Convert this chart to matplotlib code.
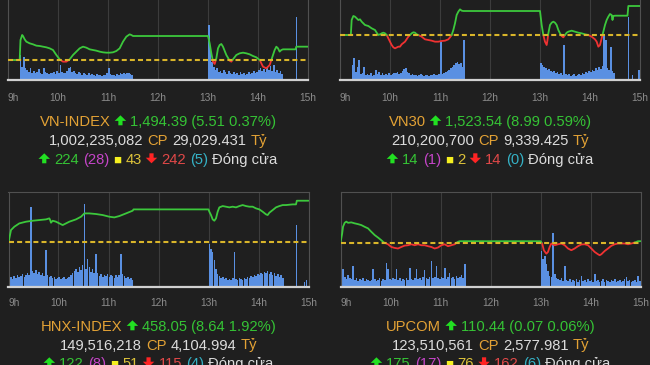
import matplotlib
matplotlib.use("Agg")
import matplotlib.pyplot as plt
from matplotlib.transforms import IdentityTransform
from matplotlib.patches import Polygon
import numpy as np

plt.rcParams['font.family'] = ['Liberation Sans', 'DejaVu Sans']

# ---------------- data ----------------
hour_ticks = [9, 10, 11, 12, 13, 14, 15]
hour_labels = ["9h", "10h", "11h", "12h", "13h", "14h", "15h"]

index_names = ["VN-INDEX", "VN30", "HNX-INDEX", "UPCOM"]
ref_values = [1488.88, 1514.55, 449.41, 110.37]
close_texts = ["1,494.39 (5.51 0.37%)", "1,523.54 (8.99 0.59%)",
               "458.05 (8.64 1.92%)", "110.44 (0.07 0.06%)"]
share_texts = ["1,002,235,082", "210,200,700", "149,516,218", "123,510,561"]
value_texts = ["29,029.431", "9,339.425", "4,104.994", "2,577.981"]
advancers = ["224", "14", "122", "175"]
ceilings = ["(28)", "(1)", "(8)", "(17)"]
unchanged = ["43", "2", "51", "76"]
decliners = ["242", "14", "115", "162"]
floors = ["(5)", "(0)", "(4)", "(6)"]

vni_times = ["9:00", "9:14", "9:15", "9:17", "9:18", "9:20", "9:22", "9:26", "9:30", "9:34",
             "9:38", "9:42", "9:46", "9:50", "9:54", "9:58", "10:02", "10:06", "10:10", "10:14",
             "10:18", "10:22", "10:26", "10:30", "10:34", "10:38", "10:42", "10:46", "10:50", "10:54",
             "10:58", "11:02", "11:06", "11:10", "11:14", "11:18", "11:22", "11:26", "11:28", "11:30",
             "13:00", "13:02", "13:04", "13:06", "13:08", "13:10", "13:12", "13:14", "13:16", "13:18",
             "13:22", "13:26", "13:28", "13:30", "13:34", "13:38", "13:42", "13:46", "13:50", "13:54",
             "13:58", "14:02", "14:06", "14:10", "14:14", "14:16", "14:18", "14:20", "14:22", "14:24",
             "14:26", "14:28", "14:30", "14:45", "14:46", "15:00"]
vni_values = [1488.88, 1488.88, 1497.15, 1499.22, 1498.80, 1497.42, 1496.46, 1495.77, 1495.36, 1494.81,
              1494.67, 1494.39, 1494.12, 1493.70, 1493.01, 1490.95, 1489.16, 1488.19, 1488.19, 1489.16,
              1490.95, 1492.33, 1493.70, 1494.39, 1493.98, 1493.29, 1493.01, 1492.74, 1492.33, 1492.05,
              1491.91, 1491.91, 1492.05, 1492.60, 1493.70, 1496.46, 1498.53, 1499.49, 1499.22, 1498.80,
              1498.80, 1495.77, 1491.64, 1488.19, 1487.23, 1489.57, 1493.70, 1495.08, 1495.49, 1494.39,
              1490.95, 1488.60, 1488.19, 1489.16, 1490.95, 1491.64, 1491.91, 1491.64, 1491.22, 1490.53,
              1489.98, 1488.88, 1486.12, 1485.43, 1486.81, 1488.88, 1490.95, 1493.01, 1494.39, 1493.70,
              1492.33, 1493.01, 1493.29, 1493.29, 1494.39, 1494.39]

vn30_times = ["9:00", "9:13", "9:14", "9:16", "9:18", "9:20", "9:22", "9:24", "9:26", "9:28",
              "9:30", "9:34", "9:38", "9:42", "9:44", "9:46", "9:48", "9:50", "9:52", "9:54",
              "9:56", "9:58", "10:00", "10:02", "10:04", "10:06", "10:10", "10:12", "10:14", "10:18",
              "10:22", "10:26", "10:28", "10:30", "10:32", "10:34", "10:38", "10:42", "10:46", "10:50",
              "10:54", "10:58", "11:02", "11:06", "11:10", "11:12", "11:14", "11:16", "11:18", "11:20",
              "11:22", "11:24", "11:26", "11:28", "11:30", "13:00", "13:02", "13:04", "13:06", "13:08",
              "13:09", "13:10", "13:12", "13:14", "13:16", "13:18", "13:20", "13:22", "13:24", "13:26",
              "13:28", "13:30", "13:32", "13:34", "13:38", "13:42", "13:46", "13:50", "13:54", "13:58",
              "14:02", "14:06", "14:08", "14:10", "14:12", "14:14", "14:16", "14:18", "14:20", "14:22",
              "14:24", "14:26", "14:27", "14:28", "14:30", "14:45", "14:46", "15:00"]
vn30_values = [1514.55, 1514.55, 1519.20, 1520.44, 1520.23, 1519.72, 1519.20, 1519.41, 1518.68, 1518.17,
               1517.65, 1517.34, 1516.62, 1516.10, 1515.27, 1514.55, 1514.76, 1515.07, 1515.27, 1515.07,
               1514.55, 1513.52, 1512.48, 1511.45, 1510.73, 1510.42, 1510.93, 1510.93, 1511.66, 1512.48,
               1514.03, 1515.07, 1515.38, 1515.27, 1514.76, 1514.55, 1514.03, 1513.21, 1513.00, 1512.79,
               1512.48, 1512.48, 1512.69, 1512.79, 1513.21, 1513.83, 1514.55, 1516.10, 1518.17, 1520.75,
               1521.78, 1522.50, 1522.09, 1521.99, 1521.99, 1521.99, 1517.65, 1514.55, 1512.48, 1511.45,
               1513.00, 1515.07, 1517.65, 1518.37, 1518.68, 1518.37, 1517.65, 1516.10, 1515.07, 1514.24,
               1513.83, 1514.55, 1515.27, 1515.58, 1515.89, 1515.58, 1515.27, 1515.07, 1514.76, 1514.55,
               1514.03, 1513.21, 1512.48, 1510.93, 1511.45, 1513.52, 1515.58, 1517.65, 1519.20, 1520.23,
               1521.06, 1520.75, 1519.20, 1520.44, 1520.54, 1520.54, 1523.54, 1523.54]

hnx_times = ["9:00", "9:03", "9:07", "9:13", "9:21", "9:29", "9:37", "9:45", "9:49", "9:50",
             "9:51", "9:53", "9:57", "10:01", "10:05", "10:09", "10:13", "10:21", "10:27", "10:31",
             "10:37", "10:45", "10:53", "11:01", "11:07", "11:13", "11:21", "11:29", "11:30", "13:00",
             "13:01", "13:03", "13:05", "13:07", "13:09", "13:11", "13:13", "13:17", "13:21", "13:25",
             "13:29", "13:33", "13:37", "13:41", "13:45", "13:49", "13:53", "13:57", "14:01", "14:05",
             "14:09", "14:11", "14:13", "14:17", "14:21", "14:25", "14:29", "14:33", "14:41", "14:45",
             "14:46", "15:00"]
hnx_values = [449.41, 451.97, 452.66, 453.35, 453.70, 453.90, 454.04, 454.18, 454.39, 454.04,
              453.49, 453.90, 453.70, 453.35, 453.00, 453.35, 453.70, 454.18, 454.73, 455.42,
              455.42, 455.29, 455.08, 454.73, 454.59, 454.87, 455.42, 455.98, 456.25, 456.25,
              455.77, 455.08, 454.18, 453.90, 454.39, 455.77, 456.67, 456.94, 456.81, 456.67,
              456.81, 456.67, 456.94, 457.15, 456.94, 456.81, 456.81, 456.46, 456.25, 455.77,
              455.22, 455.08, 455.56, 456.11, 456.67, 456.94, 457.15, 457.15, 457.29, 457.29,
              458.05, 458.05]

upcom_times = ["9:00", "9:02", "9:03", "9:05", "9:07", "9:09", "9:13", "9:17", "9:21", "9:25",
               "9:29", "9:33", "9:37", "9:41", "9:45", "9:49", "9:52", "9:55", "9:57", "10:01",
               "10:05", "10:09", "10:13", "10:17", "10:21", "10:25", "10:29", "10:33", "10:37", "10:41",
               "10:45", "10:49", "10:53", "10:57", "11:01", "11:05", "11:09", "11:13", "11:17", "11:21",
               "11:23", "11:30", "13:00", "13:02", "13:04", "13:07", "13:09", "13:11", "13:13", "13:15",
               "13:17", "13:21", "13:25", "13:29", "13:33", "13:37", "13:41", "13:45", "13:49", "13:53",
               "13:57", "14:01", "14:05", "14:09", "14:11", "14:13", "14:17", "14:21", "14:25", "14:29",
               "14:33", "14:41", "14:45", "14:49", "14:53", "14:57", "15:00"]
upcom_values = [110.37, 110.84, 111.19, 111.40, 111.46, 111.40, 111.42, 111.37, 111.33, 111.28,
                111.19, 111.11, 110.93, 110.76, 110.63, 110.49, 110.37, 110.32, 110.28, 110.14,
                110.09, 110.06, 110.14, 110.21, 110.23, 110.28, 110.23, 110.28, 110.23, 110.23,
                110.18, 110.14, 110.06, 110.11, 110.23, 110.28, 110.18, 110.23, 110.28, 110.41,
                110.44, 110.44, 110.44, 110.32, 109.97, 109.79, 109.88, 110.14, 110.32, 110.28,
                110.23, 110.28, 110.32, 110.23, 110.06, 109.97, 110.06, 110.18, 110.27, 110.28,
                110.23, 110.06, 109.88, 109.76, 109.71, 109.76, 109.93, 110.06, 110.20, 110.28,
                110.32, 110.32, 110.28, 110.32, 110.37, 110.44, 110.44]

# volume per 2-minute bar (relative units)
vni_vol_am_start, vni_vol_pm_start = "9:14", "13:00"
vni_vol_am = [25, 13, 23, 12, 10, 8, 12, 7, 9, 7,
              8, 11, 7, 6, 12, 8, 7, 6, 7, 7,
              8, 6, 9, 7, 15, 8, 7, 7, 9, 12,
              13, 8, 9, 7, 6, 8, 7, 5, 7, 6,
              5, 7, 5, 6, 5, 4, 6, 5, 5, 4,
              5, 5, 7, 12, 6, 5, 5, 4, 6, 5,
              7, 6, 7, 6, 7, 7, 6, 5]
vni_vol_pm = [55, 33, 18, 13, 10, 12, 8, 9, 7, 10,
              8, 6, 9, 7, 6, 8, 6, 7, 5, 8,
              6, 7, 5, 6, 8, 6, 7, 9, 7, 8,
              10, 12, 9, 11, 8, 13, 10, 14, 9, 15,
              8, 10, 7, 9, 6]
vni_vol_extra_times = ["14:45"]
vni_vol_extra = [63]

vn30_vol_am_start, vn30_vol_pm_start = "9:14", "13:00"
vn30_vol_am = [15, 22, 8, 13, 20, 6, 7, 13, 5, 6,
               5, 7, 4, 5, 10, 6, 8, 5, 7, 5,
               6, 5, 7, 5, 6, 7, 7, 8, 6, 7,
               9, 11, 12, 8, 7, 5, 6, 5, 5, 4,
               5, 6, 5, 4, 5, 5, 4, 5, 5, 6,
               5, 5, 6, 38, 6, 7, 8, 9, 10, 12,
               13, 15, 17, 18, 16, 17, 13, 40]
vn30_vol_pm = [17, 15, 13, 12, 10, 11, 9, 8, 9, 7,
               8, 6, 7, 5, 35, 6, 5, 6, 4, 5,
               6, 4, 5, 6, 5, 7, 6, 8, 7, 9,
               8, 10, 9, 12, 10, 13, 11, 14, 45, 40,
               12, 10, 33, 9, 7]
vn30_vol_extra_times = ["14:45", "14:50", "14:58"]
vn30_vol_extra = [63, 5, 10]

hnx_vol_am_start, hnx_vol_pm_start = "9:00", "13:00"
hnx_vol_am = [6, 10, 8, 11, 9, 12, 10, 11, 13, 10,
              12, 14, 12, 80, 16, 14, 17, 13, 15, 12,
              14, 11, 37, 12, 10, 11, 9, 10, 8, 9,
              10, 8, 9, 10, 8, 9, 10, 12, 14, 16,
              18, 15, 20, 17, 22, 83, 18, 28, 20, 15,
              18, 14, 33, 14, 11, 13, 10, 12, 11, 13,
              10, 12, 11, 9, 12, 10, 12, 33, 13, 11,
              9, 10, 8, 9, 7]
hnx_vol_pm = [43, 38, 35, 27, 18, 13, 11, 9, 10, 8,
              9, 7, 8, 7, 9, 35, 8, 7, 9, 8,
              7, 9, 8, 10, 9, 11, 10, 12, 11, 13,
              12, 14, 13, 15, 14, 16, 13, 15, 12, 14,
              11, 13, 10, 12, 9]
hnx_vol_extra_times = ["14:45", "14:54", "14:57"]
hnx_vol_extra = [62, 5, 7]

upcom_vol_am_start, upcom_vol_pm_start = "9:00", "13:00"
upcom_vol_am = [31, 18, 10, 8, 12, 9, 8, 21, 7, 9,
                6, 8, 7, 9, 6, 8, 7, 6, 7, 18,
                8, 6, 7, 9, 6, 8, 7, 24, 18, 8,
                7, 9, 8, 18, 7, 9, 6, 8, 7, 9,
                7, 19, 8, 7, 9, 18, 8, 9, 7, 10,
                17, 9, 8, 10, 26, 9, 10, 21, 9, 8,
                10, 9, 19, 8, 10, 14, 9, 10, 8, 11,
                9, 10, 12, 9, 23]
upcom_vol_pm = [36, 28, 31, 23, 16, 11, 10, 54, 13, 9,
                8, 7, 9, 6, 21, 7, 6, 8, 5, 7,
                6, 8, 5, 7, 11, 6, 7, 5, 8, 6,
                7, 5, 13, 6, 7, 5, 6, 8, 5, 7,
                6, 5, 7, 6, 8, 5, 6, 7, 5, 6,
                8, 10, 6, 7, 5, 6, 7, 5, 11, 6]
upcom_vol_extra_times = []
upcom_vol_extra = []

# ---------------- style / layout ----------------
W, H = 650, 365
BG = '#1f1f1f'
GRID = '#3c3c3c'
BOX = '#505050'
GREEN = '#3cc83c'
RED = '#f03232'
REF = '#d9b52a'
BAR = '#5a90e2'
TICK = '#8c8c8c'
ORANGE = '#e3a235'
TGREEN = '#35c335'
AGREEN = '#22e022'
WHITE = '#dcdcdc'
MAGENTA = '#c545c8'
YSQ = '#f5f020'
YNUM = '#dcc23a'
TRED = '#e04848'
ARED = '#ff2424'
CYAN = '#35b2c6'

# panel geometry in pixels: left, top, width, height
panel_px = [(8, -15, 300, 95), (340, -15, 300, 95), (8.5, 191.7, 300, 95), (340.5, 191.5, 300, 95)]
line_ylims = [(1480.61, 1519.89), (1500.60, 1530.05), (440.22, 459.92), (108.08, 113.03)]
tick_pads = [9.5, 9.5, 8.0, 8.0]
text_rows = [(126, 145, 164), (126, 145, 164), (331, 349.5, 368), (331, 349.5, 368)]

lines = [(vni_times, vni_values), (vn30_times, vn30_values), (hnx_times, hnx_values), (upcom_times, upcom_values)]
vols = [(vni_vol_am_start, vni_vol_am, vni_vol_pm_start, vni_vol_pm, vni_vol_extra_times, vni_vol_extra),
        (vn30_vol_am_start, vn30_vol_am, vn30_vol_pm_start, vn30_vol_pm, vn30_vol_extra_times, vn30_vol_extra),
        (hnx_vol_am_start, hnx_vol_am, hnx_vol_pm_start, hnx_vol_pm, hnx_vol_extra_times, hnx_vol_extra),
        (upcom_vol_am_start, upcom_vol_am, upcom_vol_pm_start, upcom_vol_pm, upcom_vol_extra_times, upcom_vol_extra)]


def hours(t):
    h, m = t.split(':')
    return int(h) + int(m) / 60.0


fig = plt.figure(figsize=(W / 100, H / 100), dpi=100)
fig.patch.set_facecolor(BG)


def colored_line(ax, ts, vs, ref):
    xs = [ts[0]]
    ys = [vs[0]]
    for i in range(1, len(ts)):
        a, b = vs[i - 1] - ref, vs[i] - ref
        if a * b < 0:
            f = a / (a - b)
            xs.append(ts[i - 1] + f * (ts[i] - ts[i - 1]))
            ys.append(ref)
        xs.append(ts[i])
        ys.append(vs[i])
    xs = np.array(xs)
    ys = np.array(ys)
    up = np.where(ys >= ref, ys, np.nan)
    dn = np.where(ys <= ref, ys, np.nan)
    ax.plot(xs, dn, color=RED, lw=1.3, solid_capstyle='round', zorder=3)
    ax.plot(xs, up, color=GREEN, lw=1.3, solid_capstyle='round', zorder=3)


for i in range(4):
    l, t, w, h = panel_px[i]
    rect = [l / W, 1 - (t + h) / H, w / W, h / H]
    axv = fig.add_axes(rect)
    axv.set_facecolor(BG)
    axv.set_xlim(9, 15)
    axv.set_ylim(0, 95)
    am_start, am, pm_start, pm, ex_t, ex_v = vols[i]
    step = 2 / 60.0
    am_x = hours(am_start) + step * np.arange(len(am))
    pm_x = hours(pm_start) + step * np.arange(len(pm))
    axv.bar(am_x, am, width=step, align='edge', color=BAR, linewidth=0, zorder=2)
    axv.bar(pm_x, pm, width=step, align='edge', color=BAR, linewidth=0, zorder=2)
    if ex_t:
        axv.bar([hours(x) for x in ex_t], ex_v, width=step * 0.8, align='edge', color=BAR, linewidth=0, zorder=2)
    axv.set_xticks(hour_ticks)
    axv.set_xticklabels(hour_labels)
    axv.set_yticks([])
    axv.tick_params(axis='x', length=0, pad=tick_pads[i], labelsize=7.3, labelcolor=TICK)
    axv.get_xticklabels()[0].set_ha('left')
    axv.grid(axis='x', color=GRID, lw=0.8)
    axv.set_axisbelow(True)
    for s in ['top', 'left', 'right']:
        axv.spines[s].set_color(BOX)
        axv.spines[s].set_linewidth(0.8)
    axv.spines['bottom'].set_color('#d0d0d0')
    axv.spines['bottom'].set_linewidth(1.6)
    axv.spines['bottom'].set_zorder(5)

    axl = fig.add_axes(rect, facecolor='none')
    axl.set_xlim(9, 15)
    axl.set_ylim(*line_ylims[i])
    axl.axis('off')
    ts, vs = lines[i]
    colored_line(axl, [hours(x) for x in ts], vs, ref_values[i])
    axl.axhline(ref_values[i], color=REF, lw=1.5, ls=(0, (2.4, 1.5)), zorder=4)

# ---------------- rich text rows ----------------
renderer = fig.canvas.get_renderer()
FS = 10.6
tmp = fig.text(0, 0, "a a", fontsize=FS)
tmp2 = fig.text(0, 0, "aa", fontsize=FS)
SPACE = tmp.get_window_extent(renderer).width - tmp2.get_window_extent(renderer).width
tmp.remove()
tmp2.remove()

ARROW_W, ARROW_H = 11.5, 10.0


def arrow_poly(x0, yb, up, color):
    # x0: left edge (px), yb: baseline in display coords (px, from bottom)
    w, hgt = ARROW_W, ARROW_H
    head = 5.6
    sw = 4.2
    cx = x0 + w / 2
    bot = yb + 0.7
    top = bot + hgt
    if up:
        pts = [(cx, top), (x0 + w, top - head), (cx + sw / 2, top - head), (cx + sw / 2, bot),
               (cx - sw / 2, bot), (cx - sw / 2, top - head), (x0, top - head)]
    else:
        pts = [(cx, bot), (x0 + w, bot + head), (cx + sw / 2, bot + head), (cx + sw / 2, top),
               (cx - sw / 2, top), (cx - sw / 2, bot + head), (x0, bot + head)]
    fig.patches.append(Polygon(pts, closed=True, facecolor=color, edgecolor='none',
                               transform=IdentityTransform(), figure=fig))


def rich_line(segments, xc, ybase):
    items = []
    widths = []
    for s, color, size in segments:
        if s in ("UP", "DOWN"):
            items.append((s, color))
            widths.append(ARROW_W)
        else:
            txt = fig.text(0, 0, s, color=color, fontsize=size, ha='left', va='baseline',
                           transform=IdentityTransform())
            items.append((txt, color))
            widths.append(txt.get_window_extent(renderer).width)
    total = sum(widths) + SPACE * (len(widths) - 1)
    x = xc - total / 2
    yb = H - ybase
    for (it, color), wd in zip(items, widths):
        if isinstance(it, str):
            arrow_poly(x, yb, it == "UP", color)
        else:
            it.set_position((x, yb))
        x += wd + SPACE


for i in range(4):
    l, t, w, h = panel_px[i]
    xc = l + w / 2
    r1, r2, r3 = text_rows[i]
    rich_line([(index_names[i], ORANGE, FS), ("UP", AGREEN, FS), (close_texts[i], TGREEN, FS)], xc, r1)
    rich_line([(share_texts[i], WHITE, FS), ("CP", ORANGE, FS), (value_texts[i], WHITE, FS), ("Tỷ", ORANGE, FS)], xc, r2)
    rich_line([("UP", AGREEN, FS), (advancers[i], TGREEN, FS), (ceilings[i], MAGENTA, FS),
               ("■", YSQ, 9.5), (unchanged[i], YNUM, FS), ("DOWN", ARED, FS), (decliners[i], TRED, FS),
               (floors[i], CYAN, FS), ("Đóng cửa", WHITE, FS)], xc, r3)

fig.savefig("out.png", dpi=100, facecolor=BG)
